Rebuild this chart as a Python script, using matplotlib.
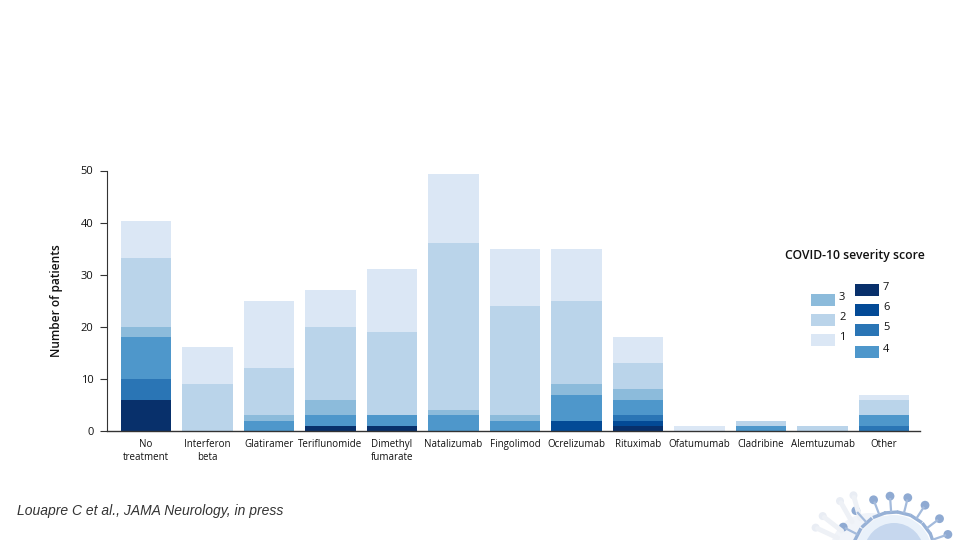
import numpy as np
import matplotlib
matplotlib.use("Agg")
import matplotlib.pyplot as plt
from matplotlib.patches import Circle, Rectangle

# ----------------------------
# Data
# ----------------------------
treatments = [
    "No\ntreatment", "Interferon\nbeta", "Glatiramer", "Teriflunomide",
    "Dimethyl\nfumarate", "Natalizumab", "Fingolimod", "Ocrelizumab",
    "Rituximab", "Ofatumumab", "Cladribine", "Alemtuzumab", "Other",
]
score7 = [6, 0, 0, 1, 1, 0, 0, 0, 1, 0, 0, 0, 0]
score6 = [0, 0, 0, 0, 0, 0, 0, 2, 1, 0, 0, 0, 0]
score5 = [4, 0, 0, 0, 0, 0, 0, 0, 1, 0, 0, 0, 1]
score4 = [8, 0, 2, 2, 2, 3, 2, 5, 3, 0, 1, 0, 2]
score3 = [2, 0, 1, 3, 0, 1, 1, 2, 2, 0, 0, 0, 0]
score2 = [13.2, 9, 9, 14, 16, 32, 21, 16, 5, 0, 1, 1, 3]
score1 = [7.1, 7.2, 13, 7, 12, 13.4, 11, 10, 5, 1, 0, 0, 1]

stack = [score7, score6, score5, score4, score3, score2, score1]
colors = ["#08306b", "#034a96", "#2a75b5", "#4e97cb", "#8cbbdb", "#bad4ea", "#dbe7f5"]
yticks = [0, 10, 20, 30, 40, 50]

W, H = 960, 540
FONT = "Open Sans"

fig = plt.figure(figsize=(W / 100, H / 100), dpi=100, facecolor="white")

# plot area in pixels: x 107..920, y 170.5..431
ax = fig.add_axes([107 / W, 1 - 431 / H, (920 - 107) / W, (431 - 170.5) / H])

x = np.arange(len(treatments))
bottom = np.zeros(len(treatments))
for values, color in zip(stack, colors):
    ax.bar(x, values, width=0.815, bottom=bottom, color=color, linewidth=0)
    bottom += np.array(values)

ax.set_xlim(-0.634, 12.585)
ax.set_ylim(0, 50)
ax.set_yticks(yticks)
ax.set_xticks(x)
ax.set_xticklabels(treatments, fontsize=7, family=FONT, color="#111111", linespacing=1.3)
ax.tick_params(axis="x", length=0, pad=5.5)
ax.tick_params(axis="y", length=5, width=0.8, color="#333333", labelsize=8, pad=4.7,
               labelcolor="#111111")
for lab in ax.get_yticklabels():
    lab.set_family(FONT)
ax.spines["top"].set_visible(False)
ax.spines["right"].set_visible(False)
ax.spines["left"].set_color("#333333")
ax.spines["bottom"].set_color("#333333")
ax.spines["left"].set_linewidth(0.8)
ax.spines["bottom"].set_linewidth(1.0)
ax.set_ylabel("Number of patients", fontsize=8.6, family=FONT, fontweight="semibold",
              color="#111111", labelpad=13)

# ----------------------------
# Overlay in pixel coords: legend, citation, virus
# ----------------------------
ov = fig.add_axes([0, 0, 1, 1], facecolor="none")
ov.set_xlim(0, W)
ov.set_ylim(H, 0)
ov.axis("off")

ov.text(855, 256, "COVID-10 severity score", fontsize=8.8, family=FONT, fontweight="semibold",
        color="#111111", ha="center", va="center")

legend_left = [("3", 4, 300), ("2", 5, 320), ("1", 6, 340)]
legend_right = [("7", 0, 290), ("6", 1, 310), ("5", 2, 330), ("4", 3, 352)]
for label, c, yc in legend_left:
    ov.add_patch(Rectangle((811, yc - 6), 24, 12, color=colors[c], linewidth=0))
    ov.text(839, yc - 3, label, fontsize=8, family=FONT, color="#111111", va="center")
for label, c, yc in legend_right:
    ov.add_patch(Rectangle((855, yc - 6), 24, 12, color=colors[c], linewidth=0))
    ov.text(883, yc - 3, label, fontsize=8, family=FONT, color="#111111", va="center")

ov.text(17, 511, "Louapre C et al., JAMA Neurology, in press", fontsize=10,
        family="Liberation Sans", style="italic", color="#333333", va="center")

# virus decoration, bottom right corner (cropped by the figure edge)
vx, vy = 894, 553
px, py = 870, 553

ov.add_patch(Circle((px, py), 40, color="#f1f4f9", linewidth=0))
for ang in [120, 106, 142, 155]:
    a = np.radians(ang)
    ca, sa = np.cos(a), np.sin(a)
    ov.plot([px + 36 * ca, px + 58 * ca], [py - 36 * sa, py - 58 * sa],
            color="#eef1f6", lw=3.5, solid_capstyle="round")
    ov.add_patch(Circle((px + 60 * ca, py - 60 * sa), 4, color="#e9edf4", linewidth=0))

ov.add_patch(Circle((vx, vy), 38, color="#e9f1fa", linewidth=0))
ov.add_patch(Circle((vx, vy), 30, color="#c6d7ee", linewidth=0))
for ang in [19, 37, 57, 76, 94, 111, 132, 153]:
    a = np.radians(ang)
    ca, sa = np.cos(a), np.sin(a)
    ov.plot([vx + 41 * np.cos(a - 0.13), vx + 41 * np.cos(a + 0.13)],
            [vy - 41 * np.sin(a - 0.13), vy - 41 * np.sin(a + 0.13)],
            color="#97b1d6", lw=2.4)
    ov.plot([vx + 42 * ca, vx + 54 * ca], [vy - 42 * sa, vy - 54 * sa], color="#a4bbdc", lw=1.6)
    ov.add_patch(Circle((vx + 57 * ca, vy - 57 * sa), 4.4, color="#8faad2", linewidth=0))

fig.savefig("out.png", dpi=100)
